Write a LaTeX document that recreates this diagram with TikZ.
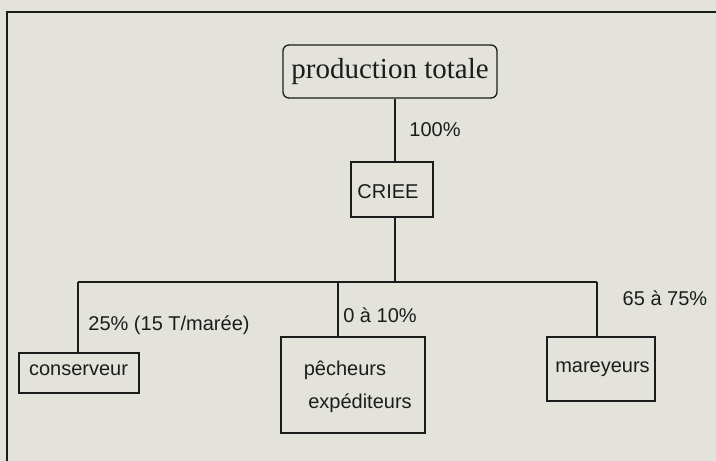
\documentclass[tikz,border=0pt]{standalone}
\usepackage{fontspec}
\setmainfont{Liberation Sans}
\newfontfamily\serifprod{Liberation Serif}
\definecolor{paper}{HTML}{E3E3DC}
\definecolor{ink}{HTML}{1C1C1C}
\begin{document}
\begin{tikzpicture}[x=1pt,y=-1pt,
  line width=1.3pt, draw=ink, text=ink,
  box/.style={draw=ink, line width=1.3pt, inner sep=0pt, font=\fontsize{20}{22}\selectfont},
  lbl/.style={inner sep=0pt, font=\fontsize{20}{22}\selectfont, text=ink},
  conn/.style={draw=ink, line width=1.3pt}]
\fill[paper] (0,0) rectangle (716,461);
\useasboundingbox (0,0) rectangle (716,461);
% frame
\coordinate (ftl) at (7,12);
\coordinate (ftr) at (716,12);
\coordinate (fbl) at (7,461);
\draw[conn] (ftr) -- (ftl) -- (fbl);
% nodes
\node[box, rounded corners=6pt, minimum width=214pt, minimum height=53pt,
      font=\serifprod\fontsize{29}{31}\selectfont] (prod) at (390,71.5) {production totale};
\node[box, minimum width=82pt, minimum height=55pt] (criee) at (392,189.5) {};
\node[lbl] (crieetxt) at (388,192) {CRIEE};
\node[box, minimum width=120pt, minimum height=40pt] (cons) at (79,373) {};
\node[lbl] (constxt) at (78.5,370) {conserveur};
\node[box, minimum width=144pt, minimum height=96pt] (pech) at (353,385) {};
\node[lbl] (pechA) at (345,370) {pêcheurs};
\node[lbl] (pechB) at (360,403) {expéditeurs};
\node[box, minimum width=108pt, minimum height=64pt] (mar) at (601,369) {};
\node[lbl] (martxt) at (602.5,369) {mareyeurs};
% connectors
\coordinate (xs) at (395,0);
\coordinate (jc) at (395,282);
\coordinate (jl) at (78,282);
\coordinate (jm) at (338,282);
\coordinate (jr) at (597,282);
\draw[conn] (prod.south -| xs) -- (criee.north -| xs);
\draw[conn] (criee.south -| xs) -- (jc);
\draw[conn] (jl) -- (jr);
\draw[conn] (jl) -- (cons.north -| jl);
\draw[conn] (jm) -- (pech.north -| jm);
\draw[conn] (jr) -- (mar.north -| jr);
% labels
\node[lbl] (l100) at (435,130) {100\%};
\node[lbl] (l25) at (169,325) {25\% (15 T/marée)};
\node[lbl] (l010) at (380,315) {0 à 10\%};
\node[lbl] (l65) at (665,298) {65 à 75\%};
\end{tikzpicture}
\end{document}
